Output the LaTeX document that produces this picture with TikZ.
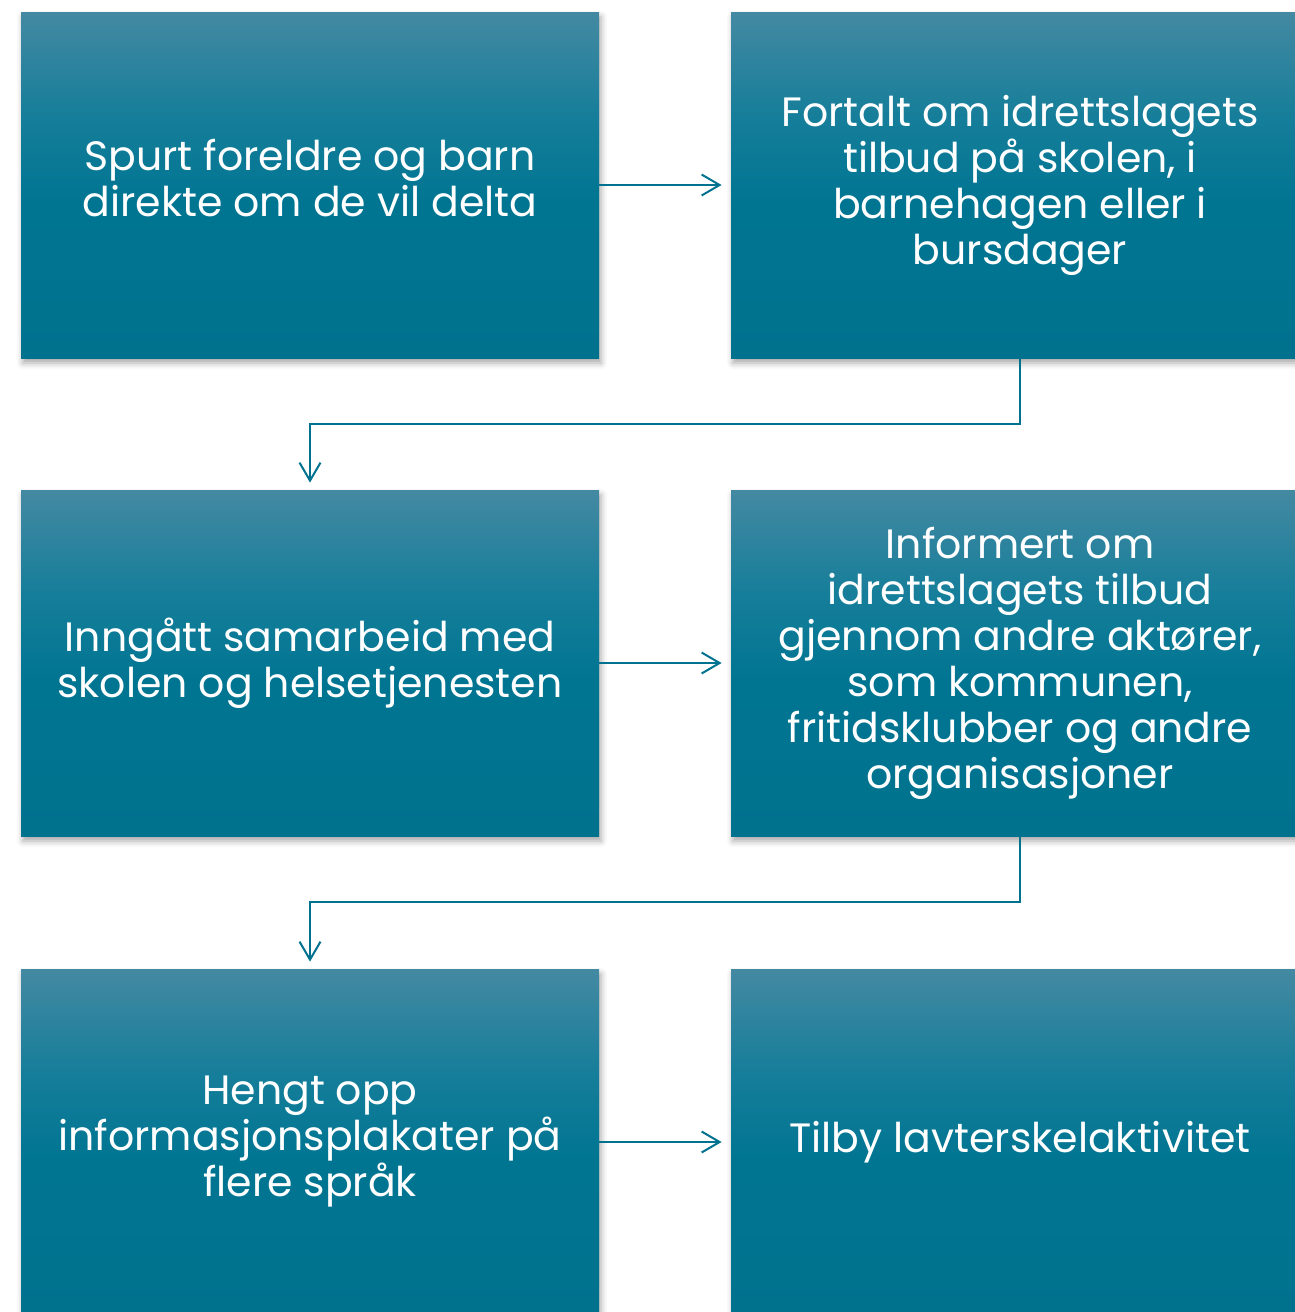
\documentclass[tikz,border=0pt]{standalone}
\usepackage{fontspec}
\setmainfont{Poppins}
\usetikzlibrary{arrows.meta,shadows.blur}
\definecolor{boxtop}{RGB}{68,137,162}
\definecolor{boxmid}{RGB}{22,126,154}
\definecolor{boxdark}{RGB}{0,117,146}
\definecolor{boxbot}{RGB}{0,114,142}
\definecolor{linecol}{RGB}{0,114,143}
\pgfdeclareverticalshading{boxshade}{100bp}{color(0bp)=(boxbot); color(25bp)=(boxbot); color(47.5bp)=(boxdark); color(60bp)=(boxmid); color(75bp)=(boxtop); color(100bp)=(boxtop)}
\begin{document}
\begin{tikzpicture}[x=0.5pt,y=-0.5pt,
  stepbox/.style={minimum width=289pt, minimum height=173pt, inner sep=0pt,
    shading=boxshade, text=white,
    align=center, font=\fontsize{20.5}{23}\selectfont,
    blur shadow={shadow xshift=1pt, shadow yshift=-2.5pt, shadow blur radius=3pt, shadow opacity=35}},
  conn/.style={draw=linecol, line width=1pt, -{Straight Barb[length=9pt,width=10.5pt]}}]
\useasboundingbox (0,0) rectangle (1295,1312);
\node[stepbox] (A) at (310,185) {Spurt foreldre og barn\\direkte om de vil delta\rule[-7pt]{0pt}{7pt}};
\node[stepbox] (B) at (1020,185) {Fortalt om idrettslagets\\tilbud på skolen, i\\barnehagen eller i\\bursdager};
\node[stepbox] (C) at (310,663) {Inngått samarbeid med\\skolen og helsetjenesten};
\node[stepbox] (D) at (1020,663) {Informert om\\idrettslagets tilbud\\gjennom andre aktører,\\som kommunen,\\fritidsklubber og andre\\organisasjoner};
\node[stepbox] (E) at (310,1142) {Hengt opp\\informasjonsplakater på\\flere språk};
\node[stepbox] (F) at (1020,1142) {Tilby lavterskelaktivitet};
\draw[conn, shorten >=4.5pt] (A.east) -- (B.west);
\draw[conn, shorten >=3.5pt] (B.south) -- ++(0,66) -| (C.north);
\draw[conn, shorten >=4.5pt] (C.east) -- (D.west);
\draw[conn, shorten >=3.5pt] (D.south) -- ++(0,66) -| (E.north);
\draw[conn, shorten >=4.5pt] (E.east) -- (F.west);
\end{tikzpicture}
\end{document}
